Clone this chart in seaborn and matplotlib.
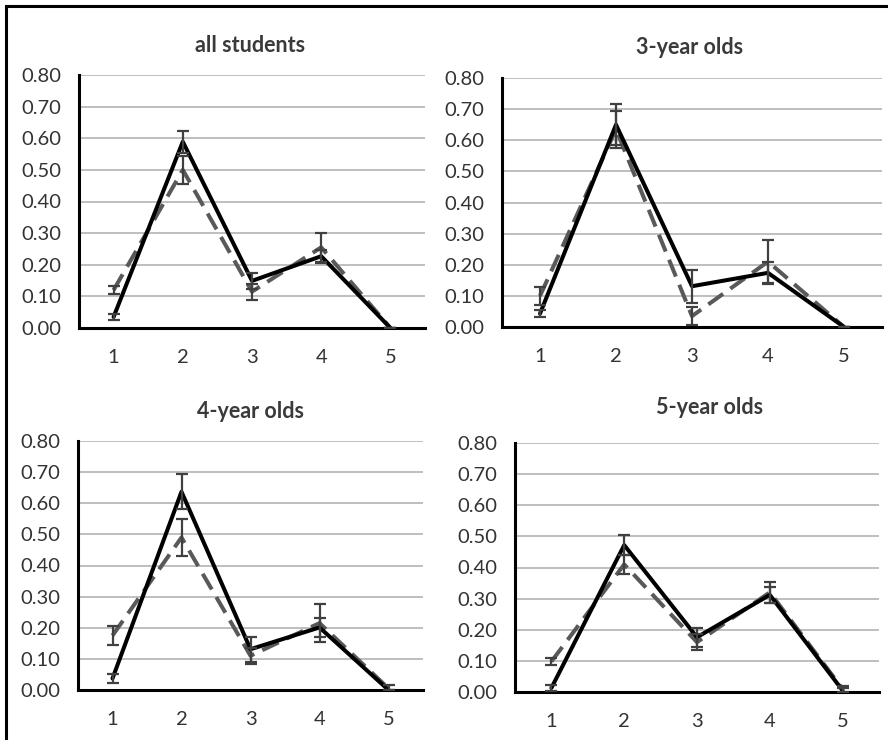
import matplotlib
matplotlib.use("Agg")
import matplotlib.pyplot as plt
from matplotlib.patches import Rectangle
import seaborn as sns
import pandas as pd

# values (x = response category 1..5)
categories = [1, 2, 3, 4, 5]
titles = ["all students", "3-year olds", "4-year olds", "5-year olds"]

all_solid = [0.035, 0.589, 0.149, 0.227, 0.0]
all_solid_err = [0.01, 0.035, 0.025, 0.02, 0.0]
all_dashed = [0.12, 0.50, 0.115, 0.255, 0.0]
all_dashed_err = [0.013, 0.045, 0.025, 0.045, 0.0]

three_solid = [0.043, 0.65, 0.131, 0.174, 0.0]
three_solid_err = [0.012, 0.065, 0.053, 0.035, 0.0]
three_dashed = [0.10, 0.635, 0.035, 0.21, 0.0]
three_dashed_err = [0.03, 0.06, 0.03, 0.07, 0.0]

four_solid = [0.037, 0.637, 0.131, 0.201, 0.0]
four_solid_err = [0.013, 0.056, 0.04, 0.03, 0.0]
four_dashed = [0.175, 0.49, 0.11, 0.215, 0.005]
four_dashed_err = [0.03, 0.06, 0.025, 0.06, 0.012]

five_solid = [0.013, 0.472, 0.176, 0.312, 0.005]
five_solid_err = [0.01, 0.032, 0.03, 0.025, 0.008]
five_dashed = [0.098, 0.41, 0.16, 0.32, 0.01]
five_dashed_err = [0.012, 0.03, 0.025, 0.035, 0.01]

panels = [
    (all_solid, all_solid_err, all_dashed, all_dashed_err),
    (three_solid, three_solid_err, three_dashed, three_dashed_err),
    (four_solid, four_solid_err, four_dashed, four_dashed_err),
    (five_solid, five_solid_err, five_dashed, five_dashed_err),
]

sns.set_style("white")
plt.rcParams["font.family"] = ["Lato", "DejaVu Sans"]

W, H = 888, 740
fig = plt.figure(figsize=(W / 100, H / 100), dpi=100)

# axes boxes in pixels: left, top, right, bottom
boxes = [(79, 75, 425, 328), (502, 78, 882, 327),
         (78, 441, 423, 690), (515, 443, 879, 692)]
title_pos = [(250, 45), (690, 48), (250, 412), (710, 407)]

for (sv, se, dv, de), box, title, tp in zip(panels, boxes, titles, title_pos):
    l, t, r, b = box
    ax = fig.add_axes([l / W, 1 - b / H, (r - l) / W, (b - t) / H])
    df = pd.DataFrame({
        "x": categories * 2,
        "y": dv + sv,
        "series": ["dashed"] * 5 + ["solid"] * 5,
    })
    sns.lineplot(data=df, x="x", y="y", hue="series", style="series",
                 hue_order=["dashed", "solid"], style_order=["dashed", "solid"],
                 palette={"dashed": "#595959", "solid": "black"},
                 dashes={"dashed": (4.5, 2.2), "solid": ""},
                 linewidth=2.9, errorbar=None, legend=False, ax=ax)
    ax.errorbar(categories, dv, yerr=de, fmt="none", ecolor="#404040",
                elinewidth=1.6, capsize=4, capthick=1.6, zorder=4)
    ax.errorbar(categories, sv, yerr=se, fmt="none", ecolor="#404040",
                elinewidth=1.6, capsize=4, capthick=1.6, zorder=4)

    ax.set_xlim(0.5, 5.5)
    ax.set_ylim(0, 0.8)
    ax.set_xticks(categories)
    ax.set_yticks([i / 10 for i in range(9)])
    ax.set_yticklabels([f"{i / 10:.2f}" for i in range(9)])
    ax.yaxis.grid(True, color="#bfbfbf", linewidth=1.4)
    ax.set_axisbelow(True)
    ax.set_xlabel("")
    ax.set_ylabel("")
    for side in ["top", "right"]:
        ax.spines[side].set_visible(False)
    for side in ["left", "bottom"]:
        ax.spines[side].set_color("black")
        ax.spines[side].set_linewidth(2.2)
    ax.tick_params(axis="both", length=0, labelsize=14.5, colors="#333333")
    ax.tick_params(axis="x", pad=15)
    ax.tick_params(axis="y", pad=13)
    fig.text(tp[0] / W, 1 - tp[1] / H, title, ha="center", va="center",
             fontsize=15.5, fontweight="bold", color="#3a3a3a")

# outer frame (right and bottom edges run off the image)
fig.add_artist(Rectangle((6 / W, -0.1), 1.2, 1 - 6 / H + 0.1,
                         transform=fig.transFigure, fill=False,
                         edgecolor="black", linewidth=2.2))

fig.savefig("out.png", dpi=100)
